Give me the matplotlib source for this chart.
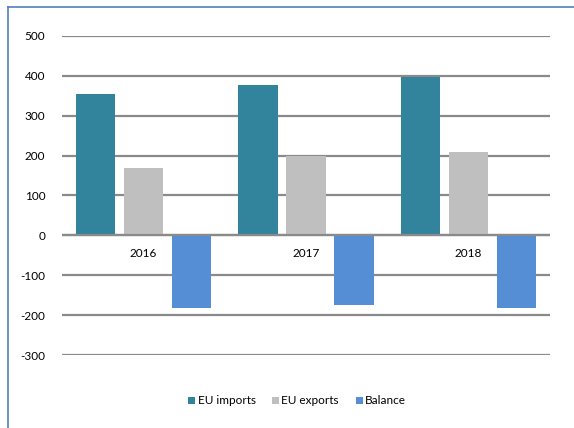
import numpy as np
import matplotlib.pyplot as plt
from matplotlib.lines import Line2D

years = ["2016", "2017", "2018"]
eu_imports = [354, 377, 396]
eu_exports = [170, 200, 210]
balance = [-181, -175, -183]

series_names = ["EU imports", "EU exports", "Balance"]
colors = ["#31849B", "#BFBFBF", "#558ED5"]
yticks = [-300, -200, -100, 0, 100, 200, 300, 400, 500]

plt.rcParams['font.family'] = ['Lato', 'DejaVu Sans']

fig = plt.figure(figsize=(5.74, 4.28), dpi=100)
ax = fig.add_axes([62/574, 1-355/428, (550-62)/574, (355-36)/428])

x = np.arange(len(years))
step = 0.295
width = 0.24
for i, (vals, name, c) in enumerate(zip([eu_imports, eu_exports, balance], series_names, colors)):
    ax.bar(x + (i-1)*step, vals, width, color=c, label=name, zorder=3)

ax.set_xlim(-0.5, len(years)-0.5)
ax.set_ylim(-300, 500)
ax.set_yticks(yticks)
ax.set_yticklabels([str(t) for t in yticks], fontsize=8.5)
ax.tick_params(axis='y', length=0, pad=12)
ax.set_xticks([])
ax.grid(axis='y', color='#8a8a8a', linewidth=1.6, zorder=0)
for s in ax.spines.values():
    s.set_visible(False)
ax.axhline(0, color='#8a8a8a', linewidth=1.6, zorder=4)

# year labels sit just under the zero line
for xi, yr in zip(x, years):
    ax.annotate(yr, (xi, 0), xytext=(0, -17), textcoords='offset points',
                ha='center', va='bottom', fontsize=8.5)

handles, labels = ax.get_legend_handles_labels()
fig.legend(handles, labels, loc='center', bbox_to_anchor=(297/574, 1-401/428),
           ncol=3, frameon=False, fontsize=8.5, handlelength=0.6, handleheight=0.6,
           handletextpad=0.2, columnspacing=1.4)

# frame lines on the top and left edge
fig.add_artist(Line2D([8/574, 8/574], [0, 1-7/428], color='#4F81BD', linewidth=1.2))
fig.add_artist(Line2D([8/574, 1], [1-7/428, 1-7/428], color='#4F81BD', linewidth=1.2))

fig.savefig("out.png", dpi=100)
